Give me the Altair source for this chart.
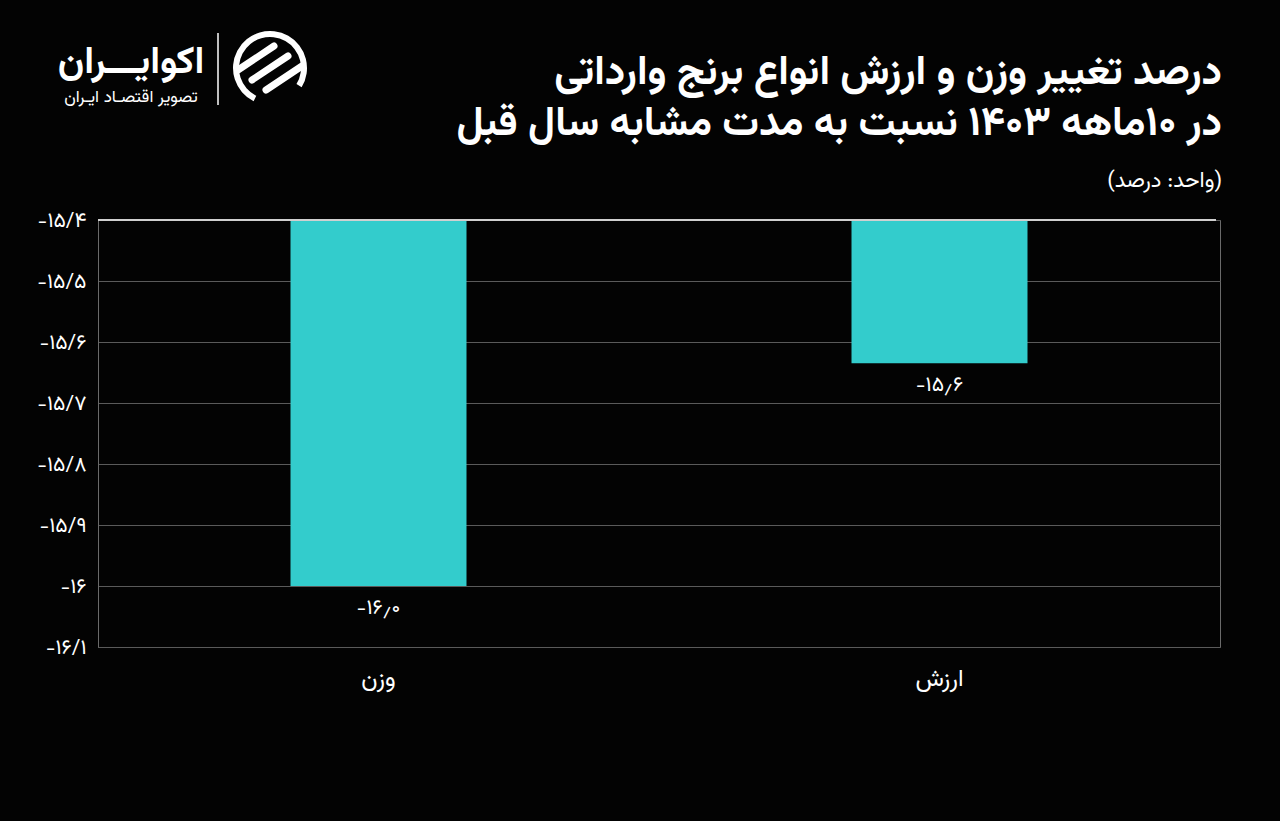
import altair as alt
import pandas as pd

# ---- data ----
categories = ["وزن", "ارزش"]
values = [-16.0, -15.635]
value_labels = ["-۱۶٫۰", "-۱۵٫۶"]
tick_values = [-15.4, -15.5, -15.6, -15.7, -15.8, -15.9, -16.0, -16.1]
tick_labels = ["-۱۵/۴", "-۱۵/۵", "-۱۵/۶", "-۱۵/۷", "-۱۵/۸", "-۱۵/۹", "-۱۶", "-۱۶/۱"]
title_lines = ["درصد تغییر وزن و ارزش انواع برنج وارداتی", "در ۱۰ماهه ۱۴۰۳ نسبت به مدت مشابه سال قبل"]
unit_text = "(واحد: درصد)"
logo_name = "اکوایـــران"
logo_tag = "تصویر اقتصـاد ایـران"

FONT = "Vazirmatn, 'Noto Sans Arabic', 'DejaVu Sans', sans-serif"
W, H = 1122, 427
BAR = "#33cccc"

df = pd.DataFrame({"cat": categories, "value": values, "label": value_labels, "top": [-15.4] * 2})

label_expr = "[" + ",".join("'" + t + "'" for t in tick_labels) + "][round((-15.4 - datum.value) * 10)]"

yscale = alt.Scale(domain=[-16.1, -15.4], zero=False, nice=False)
xenc = alt.X("cat:N", sort=categories, scale=alt.Scale(paddingInner=0.0, paddingOuter=0.0),
             axis=alt.Axis(title=None, labelAngle=0, ticks=False, domain=False, labelPadding=19,
                           labelFontSize=24, labelColor="#ffffff", labelFont=FONT))

base = alt.Chart(df)

bars = base.mark_bar(color=BAR, width=176).encode(
    x=xenc,
    y=alt.Y("value:Q", scale=yscale,
            axis=alt.Axis(title=None, values=tick_values, labelExpr=label_expr, grid=True,
                          gridColor="#5a5a5a", gridWidth=1, ticks=False, domainColor="#6a6a6a",
                          labelFontSize=21, labelColor="#ffffff", labelFont=FONT, labelPadding=12)),
    y2="top:Q",
)

bar_text = base.mark_text(color="#ffffff", fontSize=21, font=FONT, dy=22, baseline="middle").encode(
    x=alt.X("cat:N", sort=categories), y=alt.Y("value:Q", scale=yscale), text="label:N")

top_rule = alt.Chart(pd.DataFrame({"v": [-15.4]})).mark_rule(color="#d0d0d0", strokeWidth=2).encode(
    y=alt.Y("v:Q", scale=yscale), x=alt.value(0), x2=alt.value(W - 4))

titles = pd.DataFrame({"t": title_lines + [unit_text], "y": [-136, -85, -33], "s": [41, 41, 22]})
title_layers = []
for i, row in titles.iterrows():
    title_layers.append(
        alt.Chart(pd.DataFrame({"t": [row.t]})).mark_text(
            color="#ffffff", font=FONT, fontSize=int(row.s), fontWeight="bold" if row.s > 30 else "normal",
            align="right", baseline="alphabetic").encode(
            x=alt.value(W + 2), y=alt.value(int(row.y)), text="t:N"))

logo1 = alt.Chart(pd.DataFrame({"t": [logo_name]})).mark_text(
    color="#ffffff", font=FONT, fontSize=38, fontWeight="bold", align="center", baseline="alphabetic").encode(
    x=alt.value(33), y=alt.value(-147), text="t:N")
logo2 = alt.Chart(pd.DataFrame({"t": [logo_tag]})).mark_text(
    color="#ffffff", font=FONT, fontSize=17, align="center", baseline="alphabetic").encode(
    x=alt.value(33), y=alt.value(-118), text="t:N")
logo_sep = alt.Chart(pd.DataFrame({"a": [0]})).mark_rule(color="#ffffff", strokeWidth=1.5).encode(
    x=alt.value(120), y=alt.value(-187), y2=alt.value(-115))
logo_ring = alt.Chart(pd.DataFrame({"a": [0]})).mark_arc(
    color="#ffffff", radius=37, radius2=31, theta=3.6, theta2=8.4).encode(
    x=alt.value(172), y=alt.value(-152))
stripes = []
for dx, dy in [(-14, -10), (0, 0), (14, 10)]:
    stripes.append(alt.Chart(pd.DataFrame({"a": [0]})).mark_rule(
        color="#ffffff", strokeWidth=7, strokeCap="round").encode(
        x=alt.value(172 - 18 + dx), x2=alt.value(172 + 18 + dx),
        y=alt.value(-152 + 12 + dy), y2=alt.value(-152 - 12 + dy)))

chart = alt.layer(bars, bar_text, top_rule, *title_layers, logo1, logo2, logo_sep, logo_ring, *stripes).properties(
    width=W, height=H,
    padding={"left": 98, "top": 220, "right": 60, "bottom": 174},
    autosize=alt.AutoSizeParams(type="none"),
    background="#030303",
).configure_view(stroke="#6a6a6a", strokeWidth=1)

chart.save("out.html", embed_options={"renderer": "svg", "actions": False})
